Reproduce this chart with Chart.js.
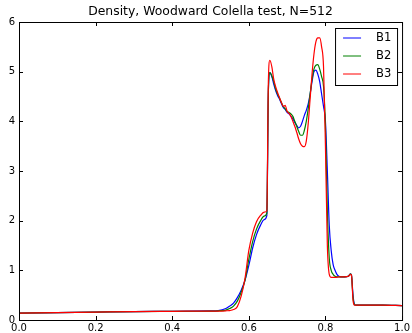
<!DOCTYPE html>
<html>
<head>
<meta charset="utf-8">
<script src="https://cdn.jsdelivr.net/npm/chart.js@4"></script>
<style>
  body { margin: 0; background: #fff; }
  #wrap { width: 412px; height: 333px; }
</style>
</head>
<body>
<div id="wrap"><canvas id="density"></canvas></div>
<script>
// position along the tube
const xs = [0, 0.1, 0.2, 0.3, 0.4, 0.5, 0.52, 0.54, 0.55, 0.56,
  0.57, 0.58, 0.59, 0.60, 0.61, 0.62, 0.63, 0.64, 0.647, 0.651,
  0.655, 0.66, 0.665, 0.67, 0.675, 0.68, 0.685, 0.69, 0.695, 0.70,
  0.705, 0.71, 0.715, 0.72, 0.725, 0.73, 0.735, 0.74, 0.745, 0.75,
  0.755, 0.76, 0.765, 0.77, 0.775, 0.78, 0.785, 0.79, 0.795, 0.80,
  0.805, 0.81, 0.815, 0.82, 0.825, 0.83, 0.835, 0.84, 0.85, 0.86,
  0.865, 0.868, 0.872, 0.876, 0.88, 0.9, 0.95, 1.0];

// density for each run
const b1 = [0.14, 0.15, 0.16, 0.17, 0.175, 0.185, 0.19, 0.23, 0.28, 0.34,
  0.45, 0.6, 0.8, 1.1, 1.45, 1.72, 1.9, 2.02, 2.1, 4.6,
  4.98, 4.9, 4.75, 4.62, 4.52, 4.45, 4.36, 4.28, 4.24, 4.18,
  4.15, 4.1, 4.05, 3.98, 3.92, 3.87, 3.9, 4.0, 4.12, 4.22,
  4.35, 4.55, 4.8, 5.0, 5.03, 4.95, 4.8, 4.55, 4.3, 4.0,
  3.0, 1.9, 1.4, 1.12, 1.0, 0.92, 0.88, 0.87, 0.87, 0.88,
  0.93, 0.9, 0.5, 0.31, 0.3, 0.3, 0.3, 0.29];

const b2 = [0.14, 0.15, 0.16, 0.17, 0.175, 0.18, 0.185, 0.2, 0.23, 0.28,
  0.38, 0.56, 0.8, 1.22, 1.58, 1.83, 1.99, 2.09, 2.15, 4.6,
  4.98, 4.92, 4.8, 4.65, 4.55, 4.47, 4.38, 4.3, 4.25, 4.2,
  4.18, 4.15, 4.1, 4.0, 3.9, 3.8, 3.72, 3.72, 3.82, 4.0,
  4.25, 4.55, 4.85, 5.05, 5.13, 5.14, 5.05, 4.9, 4.7, 3.9,
  2.2, 1.25, 1.0, 0.92, 0.88, 0.87, 0.87, 0.87, 0.87, 0.88,
  0.93, 0.9, 0.45, 0.31, 0.3, 0.3, 0.3, 0.29];

const b3 = [0.14, 0.15, 0.16, 0.17, 0.175, 0.18, 0.18, 0.185, 0.19, 0.21,
  0.27, 0.48, 0.84, 1.4, 1.75, 1.98, 2.1, 2.17, 2.2, 4.8,
  5.23, 5.1, 4.85, 4.7, 4.58, 4.48, 4.38, 4.3, 4.32, 4.2,
  4.16, 4.1, 4.0, 3.9, 3.78, 3.65, 3.55, 3.5, 3.49, 3.6,
  3.95, 4.45, 4.95, 5.35, 5.6, 5.68, 5.68, 5.5, 5.1, 3.5,
  1.5, 0.92, 0.86, 0.86, 0.86, 0.86, 0.87, 0.87, 0.87, 0.88,
  0.92, 0.9, 0.4, 0.3, 0.3, 0.3, 0.3, 0.29];

const seriesNames = ['B1', 'B2', 'B3'];
const seriesColors = ['#0000ff', '#008000', '#ff0000'];
const chartTitle = 'Density, Woodward Colella test, N=512';

Chart.defaults.font.family = 'DejaVu Sans';
Chart.defaults.font.size = 10;
Chart.defaults.color = '#000';

function toPoints(ys) {
  return xs.map((x, i) => ({ x: x, y: ys[i] }));
}

// frame, inward ticks on all four sides, title and boxed legend
const framePlugin = {
  id: 'frame',
  afterDraw(chart) {
    const ctx = chart.ctx;
    const a = chart.chartArea;
    const sx = chart.scales.x, sy = chart.scales.y;
    ctx.save();
    ctx.strokeStyle = '#000';
    ctx.lineWidth = 1;
    ctx.strokeRect(a.left + 0.5, a.top + 0.5, a.right - a.left, a.bottom - a.top);
    ctx.beginPath();
    sx.ticks.forEach(t => {
      const p = Math.round(sx.getPixelForValue(t.value)) + 0.5;
      ctx.moveTo(p, a.bottom); ctx.lineTo(p, a.bottom - 4);
      ctx.moveTo(p, a.top); ctx.lineTo(p, a.top + 4);
    });
    sy.ticks.forEach(t => {
      const p = Math.round(sy.getPixelForValue(t.value)) + 0.5;
      ctx.moveTo(a.left, p); ctx.lineTo(a.left + 4, p);
      ctx.moveTo(a.right, p); ctx.lineTo(a.right - 4, p);
    });
    ctx.stroke();

    ctx.fillStyle = '#000';
    ctx.font = '12.4px "DejaVu Sans"';
    ctx.textAlign = 'center';
    ctx.textBaseline = 'middle';
    ctx.fillText(chartTitle, (a.left + a.right) / 2, 12);

    // legend
    const bx = a.right - 67, by = a.top + 6, bw = 62, bh = 57;
    ctx.fillStyle = '#fff';
    ctx.fillRect(bx + 0.5, by + 0.5, bw, bh);
    ctx.strokeRect(bx + 0.5, by + 0.5, bw, bh);
    ctx.font = '11.5px "DejaVu Sans"';
    ctx.textAlign = 'left';
    chart.data.datasets.forEach((ds, i) => {
      const y = by + 10 + i * 18;
      ctx.strokeStyle = ds.borderColor;
      ctx.beginPath();
      ctx.moveTo(bx + 8, y); ctx.lineTo(bx + 26, y);
      ctx.stroke();
      ctx.fillStyle = '#000';
      ctx.fillText(ds.label, bx + 41, y);
    });
    ctx.restore();
  }
};

new Chart(document.getElementById('density'), {
  type: 'line',
  data: {
    datasets: seriesNames.map((name, i) => ({
      label: name,
      data: toPoints([b1, b2, b3][i]),
      borderColor: seriesColors[i],
      borderWidth: 1.2,
      pointRadius: 0,
      fill: false,
      order: seriesNames.length - i,
      cubicInterpolationMode: 'monotone'
    }))
  },
  options: {
    responsive: true,
    maintainAspectRatio: false,
    animation: false,
    layout: { padding: { top: 22, right: 8, left: 0, bottom: 0 } },
    plugins: { legend: { display: false }, tooltip: { enabled: false } },
    scales: {
      x: {
        type: 'linear',
        min: 0,
        max: 1,
        afterFit(scale) { scale.height = 13; },
        grid: { display: false, drawTicks: false },
        border: { display: false },
        ticks: { stepSize: 0.2, padding: 2, maxRotation: 0, callback: v => v.toFixed(1) }
      },
      y: {
        min: 0,
        max: 6,
        afterFit(scale) { scale.width = 19; },
        grid: { display: false, drawTicks: false },
        border: { display: false },
        ticks: { stepSize: 1, padding: 4 }
      }
    }
  },
  plugins: [framePlugin]
});
</script>
</body>
</html>
